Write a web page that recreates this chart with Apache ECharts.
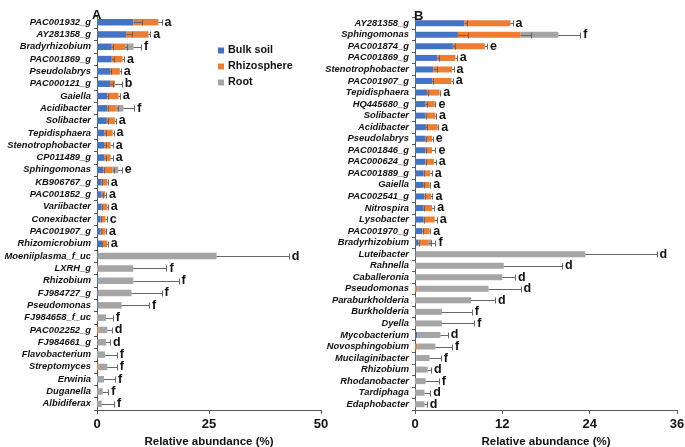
<!DOCTYPE html>
<html><head><meta charset="utf-8">
<script src="https://cdn.jsdelivr.net/npm/echarts@6/dist/echarts.min.js"></script>
<style>html,body{margin:0;padding:0;background:#fff}#c{width:685px;height:447px}</style>
</head><body><div id="c"></div>
<script>
const seriesNames = ['Bulk soil', 'Rhizosphere', 'Root'];
const xTicksA = [0, 25, 50];
const xTicksB = [0, 12, 24, 36];

const catsA = ['PAC001932_g','AY281358_g','Bradyrhizobium','PAC001869_g','Pseudolabrys','PAC000121_g','Gaiella','Acidibacter','Solibacter','Tepidisphaera','Stenotrophobacter','CP011489_g','Sphingomonas','KB906767_g','PAC001852_g','Variibacter','Conexibacter','PAC001907_g','Rhizomicrobium','Moeniiplasma_f_uc','LXRH_g','Rhizobium','FJ984727_g','Pseudomonas','FJ984658_f_uc','PAC002252_g','FJ984661_g','Flavobacterium','Streptomyces','Erwinia','Duganella','Albidiferax'];
const bulkA  = [8.1,6.5,3.3,3.3,2.9,2.9,2.3,2.3,2.2,1.6,1.6,1.6,1.4,1.05,1.05,1.05,0.8,0.8,1.1,0.2,0,0.3,0.2,0.2,0,0,0.1,0,0,0,0,0];
const rhizoA = [5.6,5.0,3.0,2.4,2.2,1.1,2.5,2.1,1.8,1.9,1.45,1.45,2.1,1.25,0.75,1.25,1.1,1.1,1.2,0,0,0,0,0,0,0.3,0,0,0.3,0,0,0];
const rootA  = [0,0,1.85,0,0,0,0,1.5,0,0,0,0,1.25,0,0,0,0,0,0,26.5,8.1,7.8,7.5,5.3,2.0,2.0,1.9,1.8,2.0,1.56,1.27,1.05];
const bulkErrA  = [1.9,1.3,0.3,0.4,0.3,0.6,0.2,0.2,0.2,0.3,0.3,0.3,0.2,0.1,0.3,0.1,0.2,0.1,0.1,0,0,0,0,0,0,0,0,0,0,0,0,0];
const rhizoErrA = [0.7,0.4,0.4,0.3,0.2,1.5,0.3,0.3,0.2,0.2,0.45,0.45,0.3,0.1,0.2,0.1,0.3,0.1,0.1,0,0,0,0,0,0,0,0,0,0,0,0,0];
const rootErrA  = [0,0,1.65,0,0,0,0,2.4,0,0,0,0,0.75,0,0,0,0,0,0,16.1,7.4,10.1,6.7,6.1,1.5,1.0,0.9,2.6,2.1,2.45,1.25,2.75];
const sigA = ['a','a','f','a','a','b','a','f','a','a','a','a','e','a','a','a','c','a','a','d','f','f','f','f','f','d','d','f','f','f','f','f'];

const catsB = ['AY281358_g','Sphingomonas','PAC001874_g','PAC001869_g','Stenotrophobacter','PAC001907_g','Tepidisphaera','HQ445680_g','Solibacter','Acidibacter','Pseudolabrys','PAC001846_g','PAC000624_g','PAC001889_g','Gaiella','PAC002541_g','Nitrospira','Lysobacter','PAC001970_g','Bradyrhizobium','Luteibacter','Rahnella','Caballeronia','Pseudomonas','Paraburkholderia','Burkholderia','Dyella','Mycobacterium','Novosphingobium','Mucilaginibacter','Rhizobium','Rhodanobacter','Tardiphaga','Edaphobacter'];
const bulkB  = [6.8,5.9,5.2,3.05,2.5,2.35,1.67,1.45,1.45,1.5,1.45,1.45,1.45,1.2,1.1,1.3,1.2,1.2,1.0,0.45,0.1,0,0,0,0,0,0,0.3,0,0.2,0.2,0,0,0];
const rhizoB = [6.3,8.6,4.4,2.5,2.6,2.65,1.7,1.25,1.35,1.6,0.9,0.9,1.15,0.9,0.9,0.9,1.15,1.5,1.0,1.45,0,0,0,0.3,0,0,0,0,0.3,0,0,0,0,0];
const rootB  = [0,5.2,0,0,0,0,0,0,0,0,0,0,0,0,0,0,0,0,0,0.45,23.3,12.2,12.0,9.8,7.7,3.7,3.7,3.2,2.5,1.8,1.55,1.45,1.3,1.3];
const bulkErrB  = [0.3,1.35,0.3,0.2,0.5,0.1,0.1,0.2,0.1,0.1,0.1,0.1,0.1,0.1,0.1,0.1,0.1,0.1,0.1,0.1,0,0,0,0,0,0,0,0,0,0,0,0,0,0];
const rhizoErrB = [0.3,1.4,0.3,0.2,0.2,0.2,0.1,0.1,0.1,0.1,0.1,0.45,0.25,0.2,0.1,0.2,0.3,0.3,0.1,0.3,0,0,0,0,0,0,0,0,0,0,0,0,0,0];
const rootErrB  = [0,3.0,0,0,0,0,0,0,0,0,0,0,0,0,0,0,0,0,0,0.45,9.8,8.0,1.75,4.4,3.3,4.1,4.45,1.0,2.3,1.55,0.45,1.8,0.8,0.3];
const sigB = ['a','f','e','a','a','a','a','e','a','a','e','e','a','a','a','a','a','a','a','f','d','d','d','d','d','f','f','d','f','f','d','f','d','d'];

const colors = ['#4472C4', '#ED7D31', '#A5A5A5'];
const FONT = 'Liberation Sans, Arial, sans-serif';

function errData(b, r, g, eb, er, eg) {
  const out = [];
  for (let i = 0; i < b.length; i++) {
    const ends = [b[i], b[i] + r[i], b[i] + r[i] + g[i]];
    const errs = [eb[i], er[i], eg[i]];
    for (let k = 0; k < 3; k++) if (errs[k] > 0) out.push([ends[k], ends[k] + errs[k], i]);
  }
  return out;
}
function sigData(b, r, g, eb, er, eg) {
  const out = [];
  for (let i = 0; i < b.length; i++) {
    const ends = [b[i], b[i] + r[i], b[i] + r[i] + g[i]];
    const errs = [eb[i], er[i], eg[i]];
    let m = 0;
    for (let k = 0; k < 3; k++) m = Math.max(m, ends[k] + errs[k]);
    out.push([m, i]);
  }
  return out;
}
function errRender(params, api) {
  const p0 = api.coord([api.value(0), api.value(2)]);
  const p1 = api.coord([api.value(1), api.value(2)]);
  const y = Math.round(p0[1]) + 0.5;
  const x1 = Math.round(p1[0]) + 0.5;
  const st = { stroke: '#666', lineWidth: 1 };
  return { type: 'group', children: [
    { type: 'line', shape: { x1: p0[0], y1: y, x2: x1, y2: y }, style: st },
    { type: 'line', shape: { x1: x1, y1: y - 3, x2: x1, y2: y + 3 }, style: st }
  ]};
}
function makeSigRender(labels) {
  return function (params, api) {
    const p = api.coord([api.value(0), api.value(1)]);
    return { type: 'text', x: p[0] + 3, y: p[1], style: {
      text: labels[params.dataIndex], textAlign: 'left', textVerticalAlign: 'middle',
      font: 'bold 12.5px ' + FONT, fill: '#111' } };
  };
}

function barSeries(idx, data, ax, bw) {
  return { type: 'bar', name: seriesNames[idx], stack: 's' + ax, xAxisIndex: ax, yAxisIndex: ax,
    data: data, barWidth: bw, itemStyle: { color: colors[idx] }, z: 2 };
}

function xAxis(gi, ticks) {
  return { type: 'value', gridIndex: gi, min: ticks[0], max: ticks[ticks.length - 1],
    interval: ticks[1] - ticks[0], splitLine: { show: false },
    axisLine: { show: true, lineStyle: { color: '#595959', width: 1 } },
    axisTick: { show: true, length: 4, lineStyle: { color: '#595959' } },
    axisLabel: { color: '#111', fontFamily: FONT, fontWeight: 'bold', fontSize: 13, margin: 8 },
    name: 'Relative abundance (%)', nameLocation: 'middle', nameGap: 25,
    nameTextStyle: { color: '#111', fontFamily: FONT, fontWeight: 'bold', fontSize: 11.5 } };
}
function yAxis(gi, cats) {
  return { type: 'category', gridIndex: gi, data: cats, inverse: true,
    axisLine: { show: true, lineStyle: { color: '#595959', width: 1 } },
    axisTick: { show: true, length: 3, lineStyle: { color: '#595959' } },
    axisLabel: { color: '#111', fontFamily: FONT, fontWeight: 'bold', fontStyle: 'italic', fontSize: 9.4, margin: 6, interval: 0 } };
}

const chart = echarts.init(document.getElementById('c'), null, { renderer: 'canvas' });
chart.setOption({
  animation: false,
  backgroundColor: '#fff',
  title: [
    { text: 'A', left: 87, top: 4, textStyle: { fontFamily: FONT, fontWeight: 'bold', fontSize: 13, color: '#111' } },
    { text: 'B', left: 409, top: 5, textStyle: { fontFamily: FONT, fontWeight: 'bold', fontSize: 13, color: '#111' } }
  ],
  legend: { data: seriesNames, orient: 'vertical', left: 213, top: 40, itemWidth: 6, itemHeight: 6,
    itemGap: 5, icon: 'rect',
    textStyle: { fontFamily: FONT, fontWeight: 'bold', fontSize: 10.8, color: '#111', padding: [0, 0, 0, -1] } },
  grid: [
    { left: 97, right: 364, top: 16, bottom: 37, containLabel: false, outerBoundsMode: 'none' },
    { left: 415, right: 8, top: 17.5, bottom: 37, containLabel: false, outerBoundsMode: 'none' }
  ],
  xAxis: [xAxis(0, xTicksA), xAxis(1, xTicksB)],
  yAxis: [yAxis(0, catsA), yAxis(1, catsB)],
  series: [
    barSeries(0, bulkA, 0, 6.5), barSeries(1, rhizoA, 0, 6.5), barSeries(2, rootA, 0, 6.5),
    barSeries(0, bulkB, 1, 6), barSeries(1, rhizoB, 1, 6), barSeries(2, rootB, 1, 6),
    { type: 'custom', xAxisIndex: 0, yAxisIndex: 0, z: 5, renderItem: errRender,
      encode: { x: [0, 1], y: 2 }, data: errData(bulkA, rhizoA, rootA, bulkErrA, rhizoErrA, rootErrA) },
    { type: 'custom', xAxisIndex: 1, yAxisIndex: 1, z: 5, renderItem: errRender,
      encode: { x: [0, 1], y: 2 }, data: errData(bulkB, rhizoB, rootB, bulkErrB, rhizoErrB, rootErrB) },
    { type: 'custom', xAxisIndex: 0, yAxisIndex: 0, z: 6, renderItem: makeSigRender(sigA),
      encode: { x: 0, y: 1 }, data: sigData(bulkA, rhizoA, rootA, bulkErrA, rhizoErrA, rootErrA) },
    { type: 'custom', xAxisIndex: 1, yAxisIndex: 1, z: 6, renderItem: makeSigRender(sigB),
      encode: { x: 0, y: 1 }, data: sigData(bulkB, rhizoB, rootB, bulkErrB, rhizoErrB, rootErrB) }
  ]
});
</script></body></html>
